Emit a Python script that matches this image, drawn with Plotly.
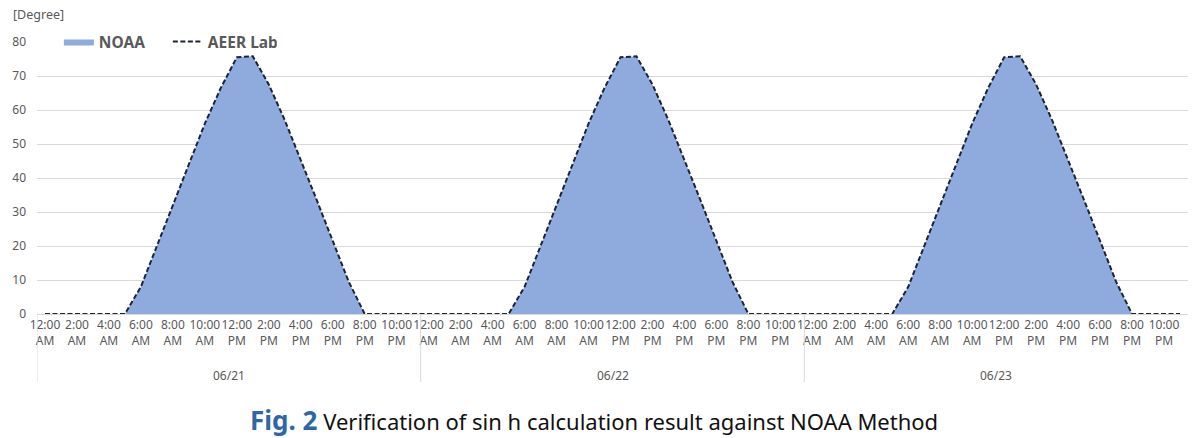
import plotly.graph_objects as go

# ---- data ----
days = ["06/21", "06/22", "06/23"]
hour_labels = ["12:00<br>AM", "2:00<br>AM", "4:00<br>AM", "6:00<br>AM", "8:00<br>AM", "10:00<br>AM",
               "12:00<br>PM", "2:00<br>PM", "4:00<br>PM", "6:00<br>PM", "8:00<br>PM", "10:00<br>PM"]

noaa_0621 = [0, 0, 0, 0, 0, 0, 8.0, 20.0, 32.0, 44.0, 56.0, 66.5, 75.5, 75.8, 67.5, 57.0, 45.5, 33.5, 21.5, 9.5, 0, 0, 0, 0]
noaa_0622 = [0, 0, 0, 0, 0, 0, 8.0, 20.0, 32.0, 44.0, 56.0, 66.5, 75.5, 75.8, 67.5, 57.0, 45.5, 33.5, 21.5, 9.5, 0, 0, 0, 0]
noaa_0623 = [0, 0, 0, 0, 0, 0, 8.0, 20.0, 32.0, 44.0, 56.0, 66.5, 75.5, 75.8, 67.5, 57.0, 45.5, 33.5, 21.5, 9.5, 0, 0, 0, 0]

aeer_0621 = [0, 0, 0, 0, 0, 0, 8.0, 20.0, 32.0, 44.0, 56.0, 66.5, 75.5, 75.8, 67.5, 57.0, 45.5, 33.5, 21.5, 9.5, 0, 0, 0, 0]
aeer_0622 = [0, 0, 0, 0, 0, 0, 8.0, 20.0, 32.0, 44.0, 56.0, 66.5, 75.5, 75.8, 67.5, 57.0, 45.5, 33.5, 21.5, 9.5, 0, 0, 0, 0]
aeer_0623 = [0, 0, 0, 0, 0, 0, 8.0, 20.0, 32.0, 44.0, 56.0, 66.5, 75.5, 75.8, 67.5, 57.0, 45.5, 33.5, 21.5, 9.5, 0, 0, 0, 0]

y_ticks = [0, 10, 20, 30, 40, 50, 60, 70, 80]

# ---- build ----
noaa = noaa_0621 + noaa_0622 + noaa_0623
aeer = aeer_0621 + aeer_0622 + aeer_0623
xs = list(range(len(noaa)))
hours_per_day = 24

tickvals = [i for i in xs if i % 2 == 0]
ticktext = [hour_labels[(i % hours_per_day) // 2] for i in tickvals]

GRAY = "#595959"
GRID = "#d9d9d9"
FONT = "Noto Sans, Noto Sans CJK KR, sans-serif"

fig = go.Figure()
fig.add_trace(go.Scatter(
    x=xs, y=noaa, name="NOAA", mode="lines",
    line=dict(width=0, color="#8FAADC"),
    fill="tozeroy", fillcolor="#8FAADC",
))
fig.add_trace(go.Scatter(
    x=xs, y=aeer, name="AEER Lab", mode="lines",
    line=dict(width=2, color="#1c2433", dash="5px,2.5px"),
))

shapes = []
for d in range(len(days)):
    xv = d * hours_per_day - 0.5
    shapes.append(dict(type="line", xref="x", yref="paper", x0=xv, x1=xv,
                       y0=0, y1=-0.25, line=dict(color=GRID, width=1)))

annotations = []
for d, lab in enumerate(days):
    annotations.append(dict(x=d * hours_per_day + 11.5, y=-0.227, xref="x", yref="paper",
                            text=lab, showarrow=False, yanchor="middle",
                            font=dict(size=12, color=GRAY, family=FONT)))
annotations.append(dict(x=-0.023, y=1.1, xref="paper", yref="paper",
                        text="[Degree]", showarrow=False, xanchor="left", yanchor="middle",
                        font=dict(size=12.5, color=GRAY, family=FONT)))
annotations.append(dict(
    x=0.484, y=-0.388, xref="paper", yref="paper", showarrow=False,
    xanchor="center", yanchor="middle",
    text="<b><span style='color:#2e67a6;font-size:26px'>Fig. 2</span></b> Verification of sin h calculation result against NOAA Method",
    font=dict(size=22, color="#111111", family="Noto Sans, sans-serif"),
))

fig.update_layout(
    width=1201, height=438,
    margin=dict(l=37, r=13, t=42, b=124),
    paper_bgcolor="white", plot_bgcolor="white",
    font=dict(family=FONT, color=GRAY, size=12),
    showlegend=True,
    legend=dict(orientation="h", x=0.019, y=1.0, xanchor="left", yanchor="middle",
                bgcolor="rgba(0,0,0,0)",
                font=dict(size=15.5, color=GRAY, family=FONT, weight="bold"),
                itemwidth=30, entrywidth=64, entrywidthmode="pixels", tracegroupgap=0),
    shapes=shapes, annotations=annotations,
)
fig.update_xaxes(range=[-0.5, 71.5], tickmode="array", tickvals=tickvals, ticktext=ticktext,
                 showgrid=False, zeroline=False, showline=True, linecolor=GRID, linewidth=1,
                 ticks="", tickfont=dict(size=12, color=GRAY), tickangle=0)
fig.update_yaxes(range=[0, 80], tickvals=y_ticks, showgrid=True, gridcolor=GRID, gridwidth=1,
                 zeroline=False, showline=False, ticks="", ticklabelstandoff=10,
                 tickfont=dict(size=12, color=GRAY))

fig.write_html("out.html", config={"displayModeBar": False},
               post_script="document.body.style.margin='0';")
